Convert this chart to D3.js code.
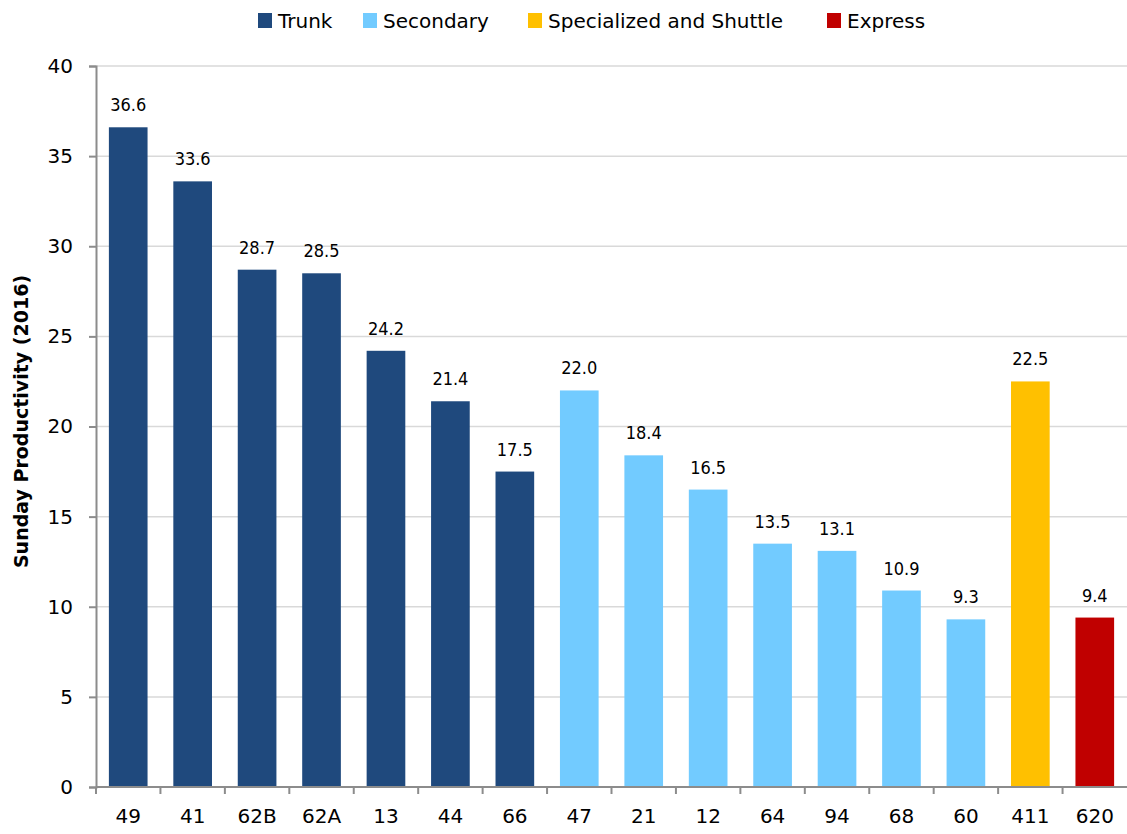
<!DOCTYPE html>
<html>
<head>
<meta charset="utf-8">
<script src="https://cdn.jsdelivr.net/npm/d3@7"></script>
<style>
  body { margin: 0; background: #fff; }
  text { font-family: "DejaVu Sans", sans-serif; fill: #000; }
  .val { font-family: "Liberation Sans Narrow", "DejaVu Sans Condensed", sans-serif; }
</style>
</head>
<body>
<div class="canvas"></div>
<script>
const
    width = 1127,
    height = 834,
    margin = {top: 66, right: 0, bottom: 47, left: 96};

const routes = ["49", "41", "62B", "62A", "13", "44", "66", "47", "21", "12", "64", "94", "68", "60", "411", "620"];
const values = [36.6, 33.6, 28.7, 28.5, 24.2, 21.4, 17.5, 22.0, 18.4, 16.5, 13.5, 13.1, 10.9, 9.3, 22.5, 9.4];
const groups = ["Trunk", "Trunk", "Trunk", "Trunk", "Trunk", "Trunk", "Trunk",
    "Secondary", "Secondary", "Secondary", "Secondary", "Secondary", "Secondary", "Secondary",
    "Specialized and Shuttle", "Express"];
const groupNames = ["Trunk", "Secondary", "Specialized and Shuttle", "Express"];
const groupColors = ["#1f497d", "#72cbff", "#ffc000", "#c00000"];
const yTicks = [0, 5, 10, 15, 20, 25, 30, 35, 40];

const data = routes.map((r, i) => ({route: r, value: values[i], group: groups[i]}));

const svg = d3.select('.canvas').append("svg")
    .attr('width', width)
    .attr('height', height);

const x = d3.scaleBand()
    .domain(routes)
    .range([margin.left, width - margin.right])
    .paddingInner(0.4)
    .paddingOuter(0.2);

const y = d3.scaleLinear()
    .domain([0, 40])
    .range([height - margin.bottom, margin.top]);

const color = d3.scaleOrdinal().domain(groupNames).range(groupColors);

// gridlines
svg.append("g")
    .selectAll("line")
    .data(yTicks.filter(d => d > 0))
    .enter()
    .append("line")
    .attr("x1", margin.left)
    .attr("x2", width)
    .attr("y1", d => y(d))
    .attr("y2", d => y(d))
    .attr("stroke", "#d9d9d9")
    .attr("stroke-width", 1.5);

// bars
svg.append("g")
    .selectAll("rect")
    .data(data)
    .enter()
    .append("rect")
    .attr("x", d => x(d.route))
    .attr("y", d => y(d.value))
    .attr("width", x.bandwidth())
    .attr("height", d => y(0) - y(d.value))
    .attr("fill", d => color(d.group));

// value labels
svg.append("g")
    .selectAll("text")
    .data(data)
    .enter()
    .append("text")
    .attr("class", "val")
    .attr("x", d => x(d.route) + x.bandwidth() / 2)
    .attr("y", d => y(d.value) - 16)
    .attr("text-anchor", "middle")
    .style("font-size", "18px")
    .text(d => d.value.toFixed(1));

// y axis
const yAxis = svg.append("g")
    .attr("transform", `translate(${margin.left},0)`)
    .call(d3.axisLeft(y).tickValues(yTicks).tickSize(7).tickPadding(16));
yAxis.selectAll("text").style("font-size", "20px");
yAxis.selectAll("line").attr("stroke", "#8c8c8c").attr("stroke-width", 2);
yAxis.select(".domain").attr("stroke", "#8c8c8c").attr("stroke-width", 2);

// x axis
const xAxis = svg.append("g")
    .attr("transform", `translate(0,${y(0)})`)
    .call(d3.axisBottom(x).tickSize(0).tickPadding(22));
xAxis.selectAll("text").style("font-size", "20px");
xAxis.select(".domain").attr("d", `M${margin.left},0H${width}`)
    .attr("stroke", "#8c8c8c").attr("stroke-width", 2);

// separators between categories
xAxis.selectAll(".sep")
    .data(routes)
    .enter()
    .append("line")
    .attr("class", "sep")
    .attr("x1", d => x(d) - x.step() * x.paddingInner() / 2)
    .attr("x2", d => x(d) - x.step() * x.paddingInner() / 2)
    .attr("y1", 0)
    .attr("y2", 7)
    .attr("stroke", "#8c8c8c")
    .attr("stroke-width", 2);

// y axis title
svg.append("text")
    .attr("transform", `translate(28,${(y(0) + y(40)) / 2 - 5}) rotate(-90)`)
    .attr("text-anchor", "middle")
    .style("font-size", "19px")
    .style("font-weight", "bold")
    .text("Sunday Productivity (2016)");

// legend
const legendX = [258, 363, 528, 827];
const legend = svg.append("g")
    .selectAll("g")
    .data(groupNames)
    .enter()
    .append("g")
    .attr("transform", (d, i) => `translate(${legendX[i]},13)`);
legend.append("rect")
    .attr("width", 14)
    .attr("height", 15)
    .attr("fill", d => color(d));
legend.append("text")
    .attr("x", 20)
    .attr("y", 15)
    .style("font-size", "20px")
    .text(d => d);
</script>
</body>
</html>
